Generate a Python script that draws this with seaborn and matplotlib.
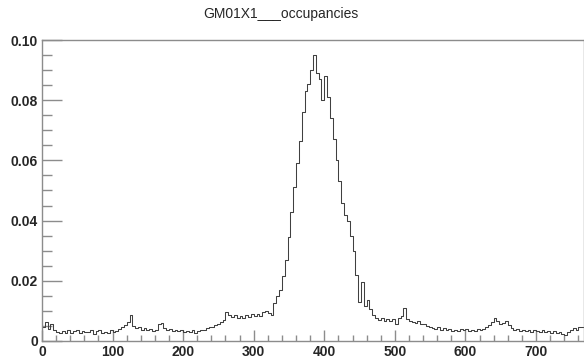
import numpy as np
import pandas as pd
import matplotlib
matplotlib.use("Agg")
import matplotlib.pyplot as plt
from matplotlib.ticker import MultipleLocator, FuncFormatter
import seaborn as sns

TITLE = "GM01X1___occupancies"
BIN_WIDTH = 4
N_CHANNELS = 768

# occupancy per group of 4 channels (ch 0 .. 767)
occ_000_063 = [0.0045, 0.0062, 0.0040, 0.0058, 0.0035, 0.0030, 0.0025, 0.0033,
               0.0028, 0.0036, 0.0026, 0.0032, 0.0038, 0.0027, 0.0034, 0.0030]
occ_064_127 = [0.0029, 0.0035, 0.0024, 0.0033, 0.0037, 0.0028, 0.0031, 0.0026,
               0.0036, 0.0030, 0.0034, 0.0040, 0.0045, 0.0052, 0.0062, 0.0085]
occ_128_191 = [0.0050, 0.0042, 0.0045, 0.0038, 0.0043, 0.0036, 0.0040, 0.0032,
               0.0037, 0.0055, 0.0060, 0.0042, 0.0036, 0.0040, 0.0033, 0.0038]
occ_192_255 = [0.0032, 0.0036, 0.0029, 0.0034, 0.0030, 0.0035, 0.0028, 0.0033,
               0.0038, 0.0036, 0.0042, 0.0047, 0.0045, 0.0052, 0.0058, 0.0063]
occ_256_319 = [0.0070, 0.0095, 0.0085, 0.0080, 0.0088, 0.0076, 0.0083, 0.0078,
               0.0086, 0.0080, 0.0089, 0.0082, 0.0090, 0.0084, 0.0095, 0.0100]
occ_320_383 = [0.0092, 0.0088, 0.0125, 0.0150, 0.0170, 0.0215, 0.0270, 0.0345,
               0.0430, 0.0510, 0.0590, 0.0665, 0.0760, 0.0830, 0.0855, 0.0900]
occ_384_447 = [0.0950, 0.0890, 0.0870, 0.0800, 0.0880, 0.0810, 0.0740, 0.0670,
               0.0600, 0.0530, 0.0460, 0.0420, 0.0400, 0.0350, 0.0300, 0.0220]
occ_448_511 = [0.0130, 0.0195, 0.0115, 0.0135, 0.0105, 0.0085, 0.0078, 0.0070,
               0.0076, 0.0068, 0.0074, 0.0066, 0.0072, 0.0058, 0.0075, 0.0082]
occ_512_575 = [0.0110, 0.0072, 0.0066, 0.0062, 0.0060, 0.0065, 0.0055, 0.0058,
               0.0050, 0.0047, 0.0044, 0.0040, 0.0046, 0.0038, 0.0042, 0.0036]
occ_576_639 = [0.0040, 0.0034, 0.0038, 0.0032, 0.0039, 0.0035, 0.0041, 0.0033,
               0.0037, 0.0034, 0.0040, 0.0036, 0.0039, 0.0045, 0.0052, 0.0062]
occ_640_703 = [0.0075, 0.0068, 0.0055, 0.0060, 0.0068, 0.0052, 0.0042, 0.0037,
               0.0041, 0.0034, 0.0038, 0.0032, 0.0036, 0.0031, 0.0037, 0.0033]
occ_704_767 = [0.0030, 0.0036, 0.0029, 0.0033, 0.0027, 0.0032, 0.0025, 0.0030,
               0.0024, 0.0020, 0.0031, 0.0038, 0.0042, 0.0037, 0.0045, 0.0048]

occupancy = (occ_000_063 + occ_064_127 + occ_128_191 + occ_192_255 +
             occ_256_319 + occ_320_383 + occ_384_447 + occ_448_511 +
             occ_512_575 + occ_576_639 + occ_640_703 + occ_704_767)

channel = np.arange(0, N_CHANNELS, BIN_WIDTH) + BIN_WIDTH / 2
df = pd.DataFrame({"channel": channel, "occupancy": occupancy})

sns.set_style("white")
plt.rcParams["font.family"] = ["Liberation Sans", "DejaVu Sans"]

fig = plt.figure(figsize=(5.84, 3.64), dpi=100)
ax = fig.add_axes([0.0719, 0.0632, 0.9281, 0.8269])

sns.histplot(data=df, x="channel", weights="occupancy",
             binwidth=BIN_WIDTH, binrange=(0, N_CHANNELS),
             element="step", fill=False, color="#404040", linewidth=0.75, ax=ax)

ax.set_xlim(0, N_CHANNELS)
ax.set_ylim(0, 0.10)
ax.set_xlabel("")
ax.set_ylabel("")

# ROOT-like axes: grey frame, ticks pointing inwards
for s in ax.spines.values():
    s.set_color("#8c8c8c")
    s.set_linewidth(1.0)

ax.xaxis.set_major_locator(MultipleLocator(100))
ax.xaxis.set_minor_locator(MultipleLocator(20))
ax.yaxis.set_major_locator(MultipleLocator(0.02))
ax.yaxis.set_minor_locator(MultipleLocator(0.005))
ax.yaxis.set_major_formatter(FuncFormatter(lambda v, p: "0" if abs(v) < 1e-9 else f"{v:.2f}"))

ax.tick_params(axis="both", which="both", bottom=True, left=True, top=False, right=False)
ax.tick_params(axis="x", which="major", direction="in", length=8, width=1,
               color="#8c8c8c", pad=3, labelsize=10)
ax.tick_params(axis="x", which="minor", direction="in", length=4, width=1,
               color="#8c8c8c")
ax.tick_params(axis="y", which="major", direction="in", length=14.5, width=1,
               color="#8c8c8c", pad=3, labelsize=10)
ax.tick_params(axis="y", which="minor", direction="in", length=7, width=1,
               color="#8c8c8c")
for lab in ax.get_xticklabels() + ax.get_yticklabels():
    lab.set_fontweight("bold")

fig.text(0.481, 0.962, TITLE, ha="center", va="center", fontsize=10)

fig.savefig("out.png", dpi=100)
